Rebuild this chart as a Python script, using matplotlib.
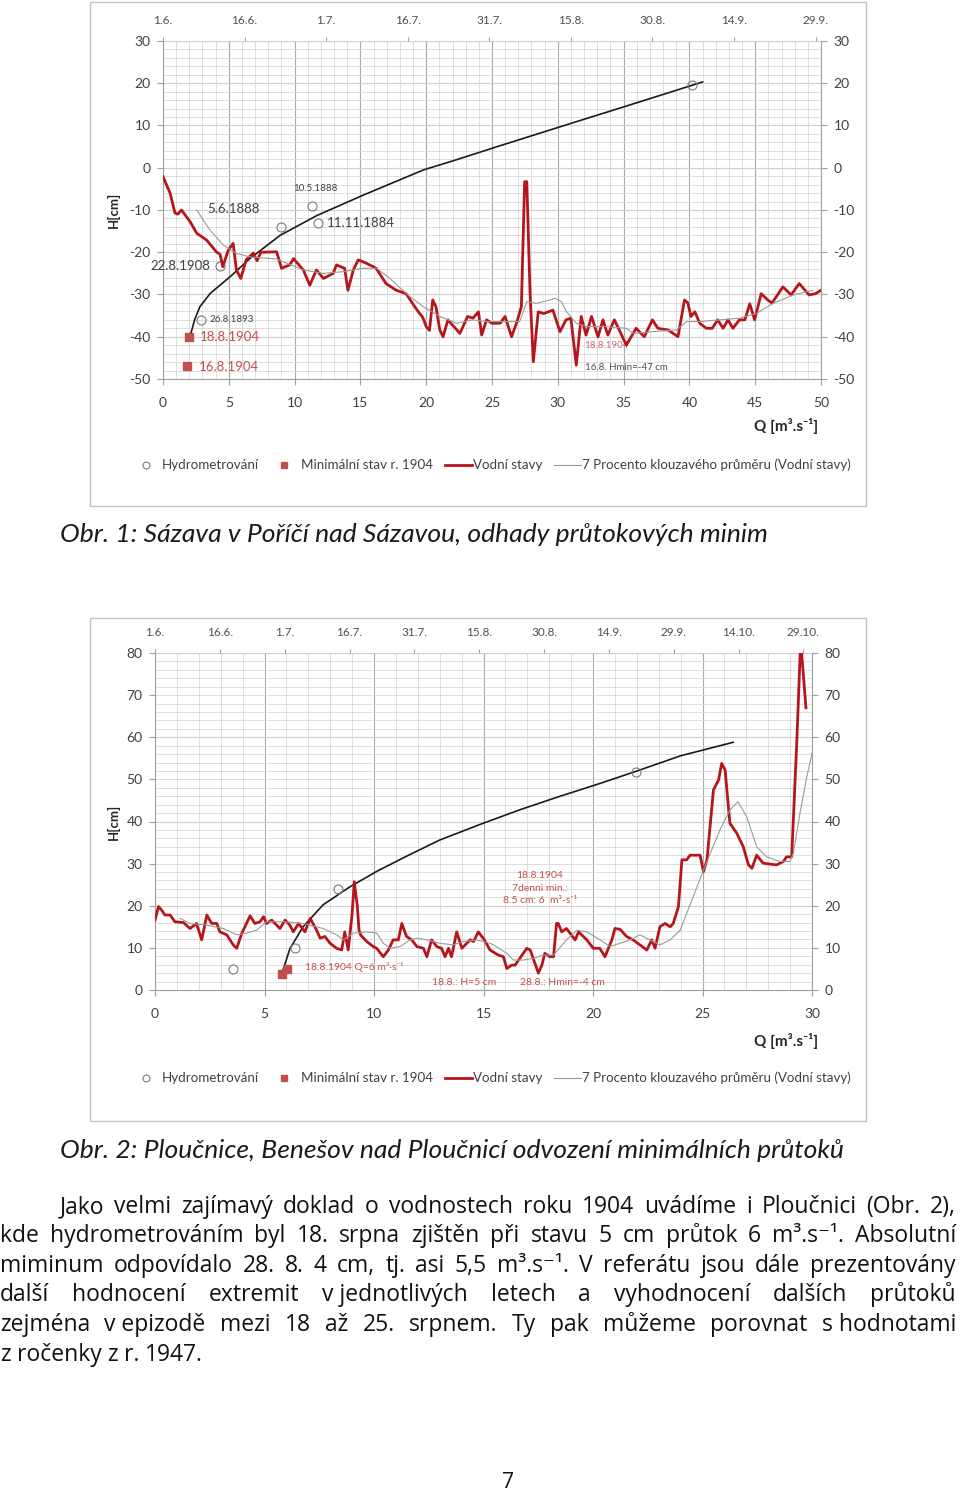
import matplotlib
matplotlib.use('Agg')
import matplotlib.pyplot as plt
from matplotlib.lines import Line2D
from matplotlib.patches import Rectangle

plt.rcParams['font.family'] = ['Lato', 'DejaVu Sans']
plt.rcParams['axes.unicode_minus'] = False

# ---------------- DATA: chart 1 (Sázava) ----------------
c1_date_labels = ['1.6.', '16.6.', '1.7.', '16.7.', '31.7.', '15.8.', '30.8.', '14.9.', '29.9.']
c1_day = [0, 1.3, 2.2, 2.7, 3.4, 5, 6.2, 8, 9.8, 10.5, 11, 12, 12.9, 13.5, 14.3, 15.3, 16.6, 17.3, 18,
          20.9, 21.8, 23.3, 24, 25.8, 27, 28.2, 29.5, 31.3, 31.9, 33.4, 34, 35, 35.9, 37.4, 39.2, 41,
          42.9, 44.7, 46.3, 47.2, 47.8, 48.4, 49, 49.6, 50.2, 50.9, 51.5, 52.4, 53, 54.6, 56, 57, 58,
          58.6, 59.5, 60.5, 62, 62.9, 64.1, 65, 65.9, 66.5, 66.9, 67.5, 68.1, 69, 70, 71.7, 73, 74.1,
          75, 76, 76.9, 77.8, 78.8, 80, 80.9, 81.8, 83, 83.9, 85.2, 87, 88.5, 90, 91, 92.9, 94.7, 95.9,
          96.5, 97.1, 97.8, 98.7, 99.9, 101, 102, 103, 103.9, 104.8, 106, 107, 107.9, 108.8, 110,
          111.2, 112, 114, 115.5, 117, 118.8, 120, 121]
c1_level = [-2.1, -6, -10.7, -11, -10, -12.8, -15.5, -17.1, -19.9, -20.5, -23.4, -19.5, -17.9, -24.2,
            -26.2, -21.8, -20.2, -22, -20, -19.9, -23.8, -23, -21.5, -24.2, -27.8, -24.2, -26.2, -25,
            -23, -23.8, -29, -24.2, -21.8, -22.6, -23.8, -27.4, -29, -29.8, -32.9, -34.5, -35.5, -37.6,
            -38.5, -31.3, -32.9, -38.4, -40, -36, -36.9, -39.2, -35.2, -35.6, -34.1, -39.6, -36, -36.8,
            -36.8, -35.2, -40, -36.8, -32.9, -3.3, -3.3, -29.8, -45.9, -34.1, -34.5, -33.7, -38.8, -36,
            -35.6, -46.7, -35.2, -39.6, -35.2, -40, -36, -39.6, -36, -38.4, -42, -38, -40, -36, -38,
            -38.4, -40, -31.3, -32, -35.2, -34.1, -36.8, -38, -38, -36, -38, -36, -38, -36, -36, -32.2,
            -36, -29.8, -31.3, -32, -28.2, -30.1, -27.4, -30.1, -29.8, -29]
c1_ma_day = [6.2, 8.6, 11.1, 13.5, 16.0, 20.9, 25.8, 29.5, 33.1, 36.8, 39.3, 41.7, 45.4, 47.9, 50.9,
             54.0, 57.0, 59.5, 63.8, 65.6, 66.9, 68.7, 71.1, 72.1, 73.3, 74.2, 76.0, 77.9, 81.6, 85.2,
             86.5, 90.1, 94.4, 96.3, 98.7, 102.4, 106, 109.1, 112.2, 115.9, 119.5]
c1_ma_level = [-10.0, -14.7, -18.3, -20.3, -21.1, -21.6, -24.2, -25.0, -24.6, -23.8, -23.8, -26.2,
               -30.5, -32.9, -35.2, -36.8, -36.0, -36.4, -36.4, -36.4, -31.7, -32.1, -31.3, -30.9,
               -31.7, -34.1, -36.8, -37.6, -37.6, -38, -39.2, -38.8, -38.4, -36.4, -36.4, -36, -35.6,
               -34.5, -32.1, -30.1, -29]
c1_curve_q = [2.05, 2.4, 2.8, 3.6, 5.1, 6.6, 8.9, 11.7, 15.2, 19.8, 22, 25.6, 31.1, 35, 41]
c1_curve_h = [-40, -36, -32.9, -29.7, -25.8, -21.5, -16.0, -11.3, -6.5, -0.5, 1.6, 5.2, 10.6, 14.4, 20.3]
c1_hydro_q = [2.86, 4.3, 9.0, 11.35, 11.75, 40.2]
c1_hydro_h = [-36, -23.3, -14.1, -9.05, -13, 19.6]
c1_min_q = [1.95, 1.8]
c1_min_h = [-40, -47]

# ---------------- DATA: chart 2 (Ploučnice) ----------------
c2_date_labels = ['1.6.', '16.6.', '1.7.', '16.7.', '31.7.', '15.8.', '30.8.', '14.9.', '29.9.',
                  '14.10.', '29.10.']
c2_day = [0, 0.8, 1.5, 2.3, 3.5, 4.6, 6.6, 8.1, 9.6, 10.8, 12.0, 13.1, 14.3, 15.0, 16.6, 18.1, 18.9,
          20.1, 22.0, 23.1, 24.3, 25.1, 25.8, 27.0, 28.9, 30.1, 31.2, 32.0, 33.2, 34.7, 35.9, 37.4,
          38.2, 39.3, 40.5, 42.0, 43.2, 43.9, 44.7, 45.6, 46.1, 46.8, 47.2, 47.6, 49.0, 50.5, 51.3,
          52.8, 54.0, 55.1, 56.3, 57.1, 58.2, 59.4, 60.6, 62.1, 62.9, 64.0, 65.2, 66.3, 67.1, 67.9,
          68.6, 69.8, 71.0, 72.9, 73.7, 74.8, 76.2, 77.5, 79.4, 80.6, 81.4, 82.5, 83.3, 84.4, 86.0,
          86.8, 87.9, 88.7, 89.5, 90.2, 91.4, 92.2, 92.9, 93.3, 94.1, 95.2, 97.2, 98.0, 99.9, 101.4,
          102.9, 104.1, 105.7, 106.4, 107.6, 109.1, 110.6, 112.2, 113.8, 114.9, 115.7, 116.8, 118.0,
          119.2, 119.9, 121.1, 121.9, 123.0, 123.8, 126.1, 126.9, 127.7, 129.2, 130.4, 131.1, 131.9,
          133.0, 134.6, 136.1, 137.3, 138.1, 139.2, 140.7, 143.8, 145.4, 146.1, 147.3, 148.5, 149.3,
          149.6, 150.6]
c2_level = [16.6, 19.8, 19.0, 17.8, 17.8, 16.2, 16.0, 14.6, 15.8, 11.9, 17.8, 15.8, 15.8, 13.8, 13.1,
            10.7, 9.9, 13.5, 17.6, 15.8, 16.2, 17.4, 15.8, 16.6, 14.6, 16.6, 15.4, 13.8, 15.8, 13.8,
            17.0, 14.2, 12.3, 12.7, 11.1, 9.9, 9.5, 13.8, 9.5, 18.0, 25.7, 20.0, 14.2, 13.0, 11.5,
            10.3, 9.9, 7.9, 9.5, 11.9, 11.9, 15.8, 12.7, 11.9, 10.3, 9.9, 7.9, 11.9, 10.3, 9.9, 7.9,
            9.9, 7.9, 13.8, 9.9, 11.9, 11.5, 13.8, 11.9, 9.5, 8.3, 7.9, 5.1, 5.9, 5.9, 7.5, 9.9, 9.5,
            6.3, 4.0, 5.9, 8.7, 7.9, 7.9, 15.8, 15.8, 13.8, 14.6, 11.9, 13.8, 11.9, 9.9, 9.9, 7.9,
            11.9, 14.6, 14.4, 12.7, 11.9, 10.7, 9.5, 11.9, 9.9, 15.0, 15.8, 15.0, 15.8, 19.8, 30.9,
            30.9, 32.0, 32.0, 28.1, 30.9, 47.5, 49.9, 53.8, 52.2, 39.6, 37.2, 34.0, 29.7, 28.9, 32.0,
            30.1, 29.7, 30.5, 31.6, 31.6, 59.3, 81.0, 80.0, 67.0]
c2_ma_day = [5.8, 8.1, 12.0, 15.8, 18.9, 21.2, 23.5, 25.8, 29.7, 34.3, 38.9, 42.0, 43.6, 45.9, 49.0,
             51.3, 52.8, 54.4, 56.7, 59.0, 60.6, 62.9, 65.9, 69.0, 71.3, 74.4, 77.5, 78.3, 81.4, 82.9,
             85.2, 87.5, 89.8, 92.2, 95.2, 97.6, 99.9, 103.0, 105.3, 107.6, 109.9, 112.2, 114.5,
             116.8, 119.2, 121.5, 124.5, 126.9, 130.7, 133.0, 134.9, 136.9, 139.2, 141.5, 144.6,
             146.9, 147.7, 149.2, 150.8, 152]
c2_ma_level = [17.0, 15.8, 15.4, 14.6, 13.1, 13.5, 14.2, 16.2, 16.2, 15.8, 14.6, 13.1, 11.9, 13.5,
               13.8, 13.5, 11.1, 9.9, 10.3, 11.9, 12.3, 11.9, 11.1, 10.7, 11.5, 11.9, 11.1, 10.7, 8.7,
               7.1, 7.1, 7.5, 8.3, 8.3, 11.9, 14.2, 13.8, 11.9, 10.3, 11.1, 11.9, 13.1, 11.9, 10.7,
               11.9, 14.2, 22.1, 28.5, 38.0, 42.7, 44.7, 41.1, 34.0, 31.6, 30.5, 30.5, 32.5, 41.9,
               50.6, 56.2]
c2_curve_q = [5.8, 6.16, 6.76, 7.67, 8.9, 10.14, 11.5, 13.0, 14.84, 16.67, 18.5, 20.3, 21.9, 24.0, 26.4]
c2_curve_h = [4.0, 9.8, 15.0, 20.2, 24.5, 28.2, 31.8, 35.6, 39.3, 42.8, 46.0, 49.0, 51.8, 55.6, 58.8]
c2_hydro_q = [3.56, 6.39, 8.34, 21.96]
c2_hydro_h = [5.0, 9.9, 23.9, 51.8]
c2_min_q = [5.78, 6.01]
c2_min_h = [3.8, 4.9]

legend_labels = ['Hydrometrování', 'Minimální stav r. 1904', 'Vodní stavy',
                 '7 Procento klouzavého průměru (Vodní stavy)']

caption1 = 'Obr. 1: Sázava v Poříčí nad Sázavou, odhady průtokových minim'
caption2 = 'Obr. 2: Ploučnice, Benešov nad Ploučnicí odvození minimálních průtoků'
body_lines = [
    'Jako velmi zajímavý doklad o vodnostech roku 1904 uvádíme i Ploučnici (Obr. 2),',
    'kde hydrometrováním byl 18. srpna zjištěn při stavu 5 cm průtok 6 m³.s⁻¹. Absolutní',
    'miminum odpovídalo 28. 8. 4 cm, tj. asi 5,5 m³.s⁻¹. V referátu jsou dále prezentovány',
    'další hodnocení extremit v\u00a0jednotlivých letech a vyhodnocení dalších průtoků',
    'zejména v\u00a0epizodě mezi 18 až 25. srpnem. Ty pak můžeme porovnat s\u00a0hodnotami',
    'z ročenky z r. 1947.',
]

# ---------------- FIGURE ----------------
W, H = 960, 1495
fig = plt.figure(figsize=(9.6, 14.95), dpi=100)
fig.patch.set_facecolor('white')
R = fig.canvas.get_renderer()


def fx(x):
    return x / W


def fy(y):
    return 1 - y / H


RED = '#b5151b'
SQ = '#c0504d'
GRAYLINE = '#9a9a9a'
TXT = '#404040'
BODY_FAMILY = ['Open Sans', 'DejaVu Sans']


def setup(ax, qmax, ylim, gstep, dmax, dlabels):
    ax.set_xlim(0, qmax)
    ax.set_ylim(*ylim)
    ax.set_xticks(range(0, qmax + 1, 5))
    ax.set_xticks(range(0, qmax + 1), minor=True)
    ax.set_yticks(range(ylim[0], ylim[1] + 1, 10))
    ax.set_yticks(range(ylim[0], ylim[1] + 1, 2), minor=True)
    ax.grid(which='minor', color='#d9d9d9', lw=0.6)
    ax.grid(which='major', axis='x', color='#a8a8a8', lw=0.8)
    ax.grid(which='major', axis='y', color='#d9d9d9', lw=0.6)
    for v in range(ylim[0], ylim[1] + 1, gstep):
        ax.axhline(v, color='#a8a8a8', lw=0.8, zorder=0.5)
    ax.set_axisbelow(True)
    for s in ax.spines.values():
        s.set_color('#a0a0a0')
        s.set_linewidth(0.8)
    ax.spines['top'].set_visible(False)
    ax.tick_params(which='minor', length=0)
    ax.tick_params(axis='y', which='major', left=True, right=True, labelleft=True,
                   labelright=True, length=4, width=0.8, color='#a0a0a0', labelsize=10,
                   labelcolor=TXT, pad=5)
    ax.tick_params(axis='x', which='major', length=4, width=0.8, color='#a0a0a0',
                   labelsize=10, labelcolor=TXT, pad=9)
    tw = ax.twiny()
    tw.set_xlim(0, dmax)
    tw.set_xticks(range(0, 15 * len(dlabels), 15))
    tw.set_xticklabels(dlabels)
    tw.tick_params(axis='x', length=3, width=0.8, color='#a0a0a0', labelsize=8.5,
                   labelcolor='#505050', pad=8)
    for s in tw.spines.values():
        s.set_visible(False)
    return tw


def draw_series(ax, tw, cq, ch, hq, hh, mq, mh, day, lev, mday, mlev):
    ax.plot(cq, ch, color='#1a1a1a', lw=1.2, zorder=3, solid_joinstyle='round')
    ax.plot(hq, hh, ls='none', marker='o', ms=6.5, mfc='none', mec='#7a7a7a', mew=0.8, zorder=4)
    ax.plot(mq, mh, ls='none', marker='s', ms=5.5, color=SQ, zorder=4)
    tw.plot(day, lev, color=RED, lw=2.0, solid_joinstyle='round', zorder=3)
    tw.plot(mday, mlev, color=GRAYLINE, lw=0.8, zorder=4)
    tw.set_ylim(ax.get_ylim())


# ---- chart 1 ----
ax1 = fig.add_axes([fx(163), fy(379), (821 - 163) / W, (379 - 41) / H])
tw1 = setup(ax1, 50, (-50, 30), 10, 121, c1_date_labels)
draw_series(ax1, tw1, c1_curve_q, c1_curve_h, c1_hydro_q, c1_hydro_h, c1_min_q, c1_min_h,
            c1_day, c1_level, c1_ma_day, c1_ma_level)
ax1.text(3.34, -9.8, '5.6.1888', fontsize=9.5, color=TXT, va='center', zorder=6)
ax1.text(9.88, -5.0, '10.5.1888', fontsize=7, color=TXT, va='center', zorder=6)
ax1.text(12.46, -13.1, '11.11.1884', fontsize=9.5, color=TXT, va='center', zorder=6)
ax1.text(3.6, -23.3, '22.8.1908', fontsize=9.5, color=TXT, va='center', ha='right', zorder=6)
ax1.text(3.5, -36, '26.8.1893', fontsize=7, color=TXT, va='center', zorder=6)
ax1.text(2.81, -40, '18.8.1904', fontsize=9.5, color=SQ, va='center', zorder=6)
ax1.text(2.74, -47.2, '16.8.1904', fontsize=9.5, color=SQ, va='center', zorder=6)
ax1.text(32.0, -42, '18.8.1904', fontsize=7, color='#c87070', va='center', zorder=6)
ax1.text(32.07, -47.2, '16.8. Hmin=-47 cm', fontsize=7, color='#505050', va='center', zorder=6)

# ---- chart 2 ----
ax2 = fig.add_axes([fx(155), fy(990), (812 - 155) / W, (990 - 653) / H])
tw2 = setup(ax2, 30, (0, 80), 20, 152, c2_date_labels)
draw_series(ax2, tw2, c2_curve_q, c2_curve_h, c2_hydro_q, c2_hydro_h, c2_min_q, c2_min_h,
            c2_day, c2_level, c2_ma_day, c2_ma_level)
ax2.text(6.85, 5.5, '18.8.1904 Q=6 m³·s⁻¹', fontsize=7.5, color=SQ, va='center', zorder=6)
ax2.text(12.65, 1.7, '18.8.: H=5 cm', fontsize=7.5, color=SQ, va='center', zorder=6)
ax2.text(16.67, 1.7, '28.8.: Hmin=-4 cm', fontsize=7.5, color=SQ, va='center', zorder=6)
ax2.text(17.58, 24.2, '18.8.1904\n7denni min.:\n8.5 cm: 6  m³-s⁻¹', fontsize=7.5, color=SQ,
         va='center', ha='center', linespacing=1.45, zorder=6)

# ---- frames, axis titles, legends ----
for top, bot in [(2, 506), (618, 1121)]:
    fig.add_artist(Rectangle((fx(90), fy(bot)), 776 / W, (bot - top) / H, transform=fig.transFigure,
                             fill=False, ec='#c4c4c4', lw=1.0))

for yc in (210, 822):
    fig.text(fx(113), fy(yc), 'H[cm]', rotation=90, fontsize=9.5, fontweight='bold',
             ha='center', va='center', color='#262626')
for yc in (426, 1041):
    fig.text(fx(786), fy(yc), 'Q [m³.s⁻¹]', fontsize=11, fontweight='bold',
             ha='center', va='center', color='#262626')


def legend_row(yc):
    fs = 9.6
    x = 146
    fig.add_artist(Line2D([fx(x)], [fy(yc)], marker='o', ms=5, mfc='none', mec='#7a7a7a',
                          mew=0.8, transform=fig.transFigure))
    t = fig.text(fx(x + 16), fy(yc), legend_labels[0], fontsize=fs, va='center', color=TXT)
    x = x + 16 + t.get_window_extent(R).width + 25
    fig.add_artist(Line2D([fx(x)], [fy(yc)], marker='s', ms=5, color=SQ, ls='none',
                          transform=fig.transFigure))
    t = fig.text(fx(x + 17), fy(yc), legend_labels[1], fontsize=fs, va='center', color=TXT)
    x = x + 17 + t.get_window_extent(R).width + 12
    fig.add_artist(Line2D([fx(x), fx(x + 27)], [fy(yc), fy(yc)], color=RED, lw=2.0,
                          transform=fig.transFigure))
    t = fig.text(fx(x + 28), fy(yc), legend_labels[2], fontsize=fs, va='center', color=TXT)
    x = x + 28 + t.get_window_extent(R).width + 11
    fig.add_artist(Line2D([fx(x), fx(x + 27)], [fy(yc), fy(yc)], color=GRAYLINE, lw=0.8,
                          transform=fig.transFigure))
    fig.text(fx(x + 29), fy(yc), legend_labels[3], fontsize=fs, va='center', color=TXT)


legend_row(465)
legend_row(1078)

# ---- captions ----
for cap, yc, target in [(caption1, 535, 707), (caption2, 1150, 785)]:
    t = fig.text(fx(60), fy(yc), cap, fontsize=15, style='italic', va='center', color='#1a1a1a')
    w = t.get_window_extent(R).width
    t.set_fontsize(15 * target / w)

# ---- body text (justified) ----
probe = fig.text(0, 0, body_lines[2], fontsize=15, family=BODY_FAMILY)
fs_body = 15 * 945 / probe.get_window_extent(R).width
probe.remove()
fs_body = max(min(fs_body, 16.5), 13.5)
baselines = [1213, 1242, 1272, 1301, 1331, 1361]
for i, (line, yb) in enumerate(zip(body_lines, baselines)):
    x0 = 60 if i == 0 else 0
    words = line.split(' ')
    texts = [fig.text(0, fy(yb), w, fontsize=fs_body, va='baseline', color='#111111',
                      family=BODY_FAMILY) for w in words]
    widths = [t.get_window_extent(R).width for t in texts]
    if i < len(body_lines) - 1:
        gap = (956 - x0 - sum(widths)) / (len(words) - 1)
    else:
        sp = fig.text(0, 0, 'a a', fontsize=fs_body, family=BODY_FAMILY)
        sa = fig.text(0, 0, 'aa', fontsize=fs_body, family=BODY_FAMILY)
        gap = sp.get_window_extent(R).width - sa.get_window_extent(R).width
        sp.remove()
        sa.remove()
    x = x0
    for t, w in zip(texts, widths):
        t.set_x(fx(x))
        x += w + gap

fig.text(fx(508), fy(1483), '7', fontsize=15, ha='center', va='center', color='#111111',
         family=BODY_FAMILY)

fig.savefig('out.png', dpi=100, facecolor='white')
